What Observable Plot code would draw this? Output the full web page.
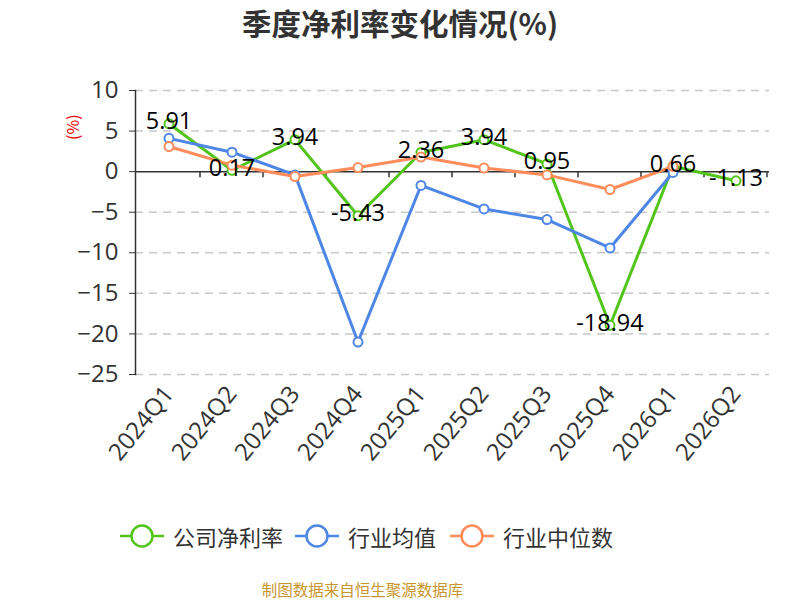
<!DOCTYPE html>
<html>
<head>
<meta charset="utf-8">
<script src="https://cdn.jsdelivr.net/npm/d3@7"></script>
<script src="https://cdn.jsdelivr.net/npm/@observablehq/plot@0.6"></script>
<style>
  html, body { margin: 0; padding: 0; background: #fff; }
  body { font-family: "Noto Sans CJK SC", "Noto Sans", sans-serif; }
  #wrap { position: relative; width: 800px; height: 600px; overflow: hidden; }
  #title { position: absolute; top: 2px; left: 0; width: 800px; text-align: center; font-size: 29.5px; font-weight: bold; color: #333; line-height: 40px; }
  #unit { position: absolute; left: 60px; top: 118px; width: 24px; height: 20px; color: #e00; font-size: 16px; transform: rotate(-90deg); line-height: 20px; text-align: center; }
  .leg { position: absolute; top: 519px; display: flex; align-items: center; font-size: 22px; color: #333; line-height: 34px; }
  .leg svg { margin-right: 9px; }
  #foot { position: absolute; top: 577px; left: 0; width: 725px; text-align: center; font-size: 15.5px; color: #c8962e; line-height: 24px; }
  #chart { position: absolute; left: 0; top: 0; }
</style>
</head>
<body>
<div id="wrap">
  <div id="chart"></div>
  <div id="title">季度净利率变化情况(%)</div>
  <div id="unit">(%)</div>
  <div id="legend"></div>
  <div id="foot">制图数据来自恒生聚源数据库</div>
</div>
<script>
const quarters = ["2024Q1","2024Q2","2024Q3","2024Q4","2025Q1","2025Q2","2025Q3","2025Q4","2026Q1","2026Q2"];
const companyRate = [5.91, 0.17, 3.94, -5.43, 2.36, 3.94, 0.95, -18.94, 0.66, -1.13];
const industryMean = [4.1, 2.4, -0.4, -21.0, -1.7, -4.6, -5.9, -9.4, -0.1, null];
const industryMedian = [3.1, 0.8, -0.6, 0.5, 1.8, 0.45, -0.4, -2.2, 0.65, null];
const yTicks = [10, 5, 0, -5, -10, -15, -20, -25];
const seriesNames = ["公司净利率", "行业均值", "行业中位数"];
const seriesColors = ["#52c41a", "#4e86e5", "#ff8c5a"];

const seriesValues = [companyRate, industryMean, industryMedian];
const rows = [];
seriesNames.forEach((name, s) => {
  quarters.forEach((q, i) => {
    const v = seriesValues[s][i];
    if (v !== null && v !== undefined) rows.push({series: name, q, v, s});
  });
});

const zeroTicks = (index, scales, values, dims) => {
  const g = d3.create("svg:g");
  const xs = quarters.map(q => scales.x(q));
  const bw = xs[1] - xs[0];
  const y0 = scales.y(0);
  const bounds = xs.slice(1).concat([xs[xs.length - 1] + bw]);
  bounds.forEach(x => {
    g.append("line").attr("x1", x).attr("x2", x).attr("y1", y0).attr("y2", y0 + 6)
      .attr("stroke", "#333").attr("stroke-width", 1.5);
  });
  return g.node();
};

const numFont = "'Open Sans', 'Noto Sans CJK SC', sans-serif";
const marks = [
  Plot.gridY(yTicks.filter(t => t !== 0), {stroke: "#c8c8c8", strokeOpacity: 1, strokeWidth: 1.5, strokeDasharray: "8,6"}),
  Plot.ruleY([0], {stroke: "#333", strokeWidth: 1.5}),
  zeroTicks,
  Plot.axisY({ticks: yTicks, tickSize: 6, tickPadding: 11, fontSize: 24, fontFamily: numFont, fill: "#333", stroke: "#333", label: null}),
  Plot.frame({anchor: "left", stroke: "#333", strokeWidth: 1.5}),
  Plot.axisX({tickRotate: -51, tickSize: 0, tickPadding: 15, fontSize: 24, fontFamily: numFont, fill: "#333", label: null})
];
seriesNames.forEach((name, s) => {
  const d = rows.filter(r => r.s === s);
  marks.push(Plot.line(d, {x: "q", y: "v", stroke: seriesColors[s], strokeWidth: 3}));
  marks.push(Plot.dot(d, {x: "q", y: "v", r: 4.5, fill: "#fff", stroke: seriesColors[s], strokeWidth: 2}));
});
marks.push(Plot.text(rows.filter(r => r.s === 0), {
  x: "q", y: "v", text: d => String(d.v), dy: -2, fontSize: 23.5, fontFamily: numFont, fill: "#000", lineAnchor: "middle"
}));

const chart = Plot.plot({
  width: 800,
  height: 600,
  marginTop: 90,
  marginBottom: 226,
  marginLeft: 135,
  marginRight: 31,
  style: {fontFamily: "'Noto Sans CJK SC', 'Noto Sans', sans-serif", background: "transparent", overflow: "visible"},
  x: {type: "band", domain: quarters, padding: 0},
  y: {domain: [-25, 10]},
  marks
});
document.getElementById("chart").appendChild(chart);

// legend
const legLefts = [120, 295, 450];
const legend = document.getElementById("legend");
seriesNames.forEach((name, s) => {
  const item = document.createElement("div");
  item.className = "leg";
  item.style.left = legLefts[s] + "px";
  item.innerHTML = `<svg width="44" height="26"><line x1="0" x2="44" y1="13" y2="13" stroke="${seriesColors[s]}" stroke-width="2.5"/><circle cx="22" cy="13" r="10.5" fill="#fff" stroke="${seriesColors[s]}" stroke-width="2.5"/></svg><span>${name}</span>`;
  legend.appendChild(item);
});
</script>
</body>
</html>
